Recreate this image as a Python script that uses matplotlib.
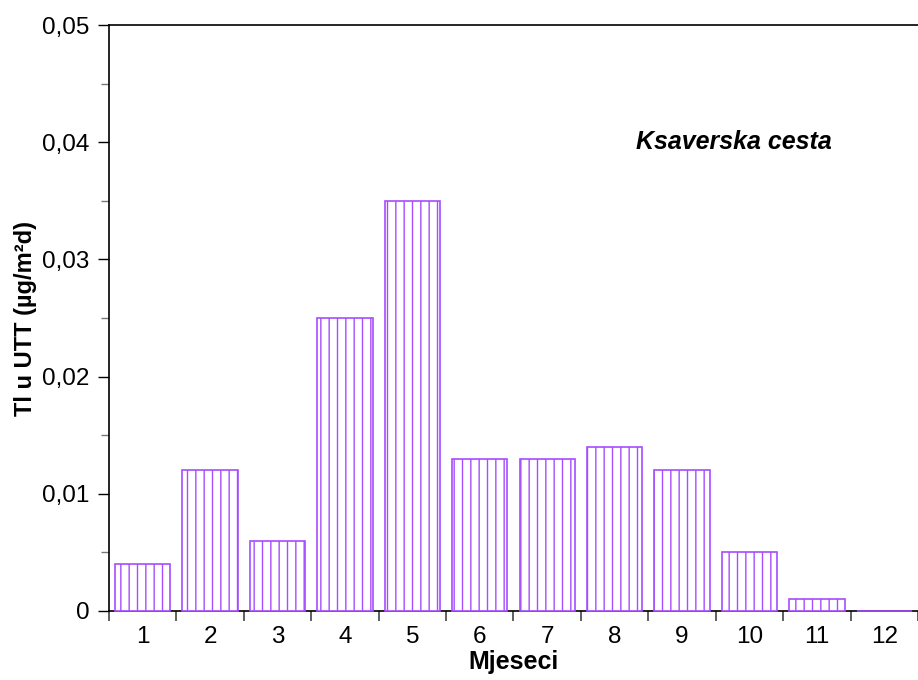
import matplotlib
matplotlib.use('Agg')
import matplotlib.pyplot as plt
from matplotlib.ticker import FuncFormatter, MultipleLocator

months = [1, 2, 3, 4, 5, 6, 7, 8, 9, 10, 11, 12]
month_labels = ['1', '2', '3', '4', '5', '6', '7', '8', '9', '10', '11', '12']
tl_values = [0.004, 0.012, 0.006, 0.025, 0.035, 0.013, 0.013, 0.014, 0.012, 0.005, 0.001, 0.0]

plt.rcParams['font.family'] = ['Liberation Sans', 'DejaVu Sans']
plt.rcParams['hatch.linewidth'] = 1.0
purple = '#a64dff'

fig = plt.figure(figsize=(9.18, 6.8), dpi=100)
ax = fig.add_axes([0.1187, 0.1015, 0.8813, 0.8617])

ax.bar(months, tl_values, width=0.82, color='white', edgecolor=purple, hatch='||', linewidth=1.2, zorder=3, clip_on=False)

ax.set_xlim(0.5, 12.5)
ax.set_ylim(0, 0.05)
ax.set_xticks(months)
ax.set_xticklabels(month_labels)
ax.xaxis.set_minor_locator(MultipleLocator(1, offset=0.5))
ax.tick_params(axis='x', which='major', length=0, labelsize=17.5, pad=11)
ax.tick_params(axis='x', which='minor', length=7, width=1.2, color='#444444')
ax.yaxis.set_major_locator(MultipleLocator(0.01))
ax.yaxis.set_minor_locator(MultipleLocator(0.005))
ax.yaxis.set_major_formatter(FuncFormatter(lambda v, p: '0' if v == 0 else ('%.2f' % v).replace('.', ',')))
ax.tick_params(axis='y', which='major', length=8, width=1, labelsize=17.5, pad=6)
ax.tick_params(axis='y', which='minor', length=6, width=1, color='#777777')

ax.spines['right'].set_visible(False)
for s in ['left', 'bottom', 'top']:
    ax.spines[s].set_linewidth(1.2)

ax.set_xlabel('Mjeseci', fontsize=18, fontweight='bold', labelpad=1)
ax.set_ylabel('Tl u UTT (µg/m²d)', fontsize=17, fontweight='bold')
ax.yaxis.set_label_coords(-0.089, 0.5)
ax.text(9.77, 0.04, 'Ksaverska cesta', fontsize=18, fontweight='bold', fontstyle='italic', ha='center', va='center')

fig.savefig('out.png', dpi=100)
